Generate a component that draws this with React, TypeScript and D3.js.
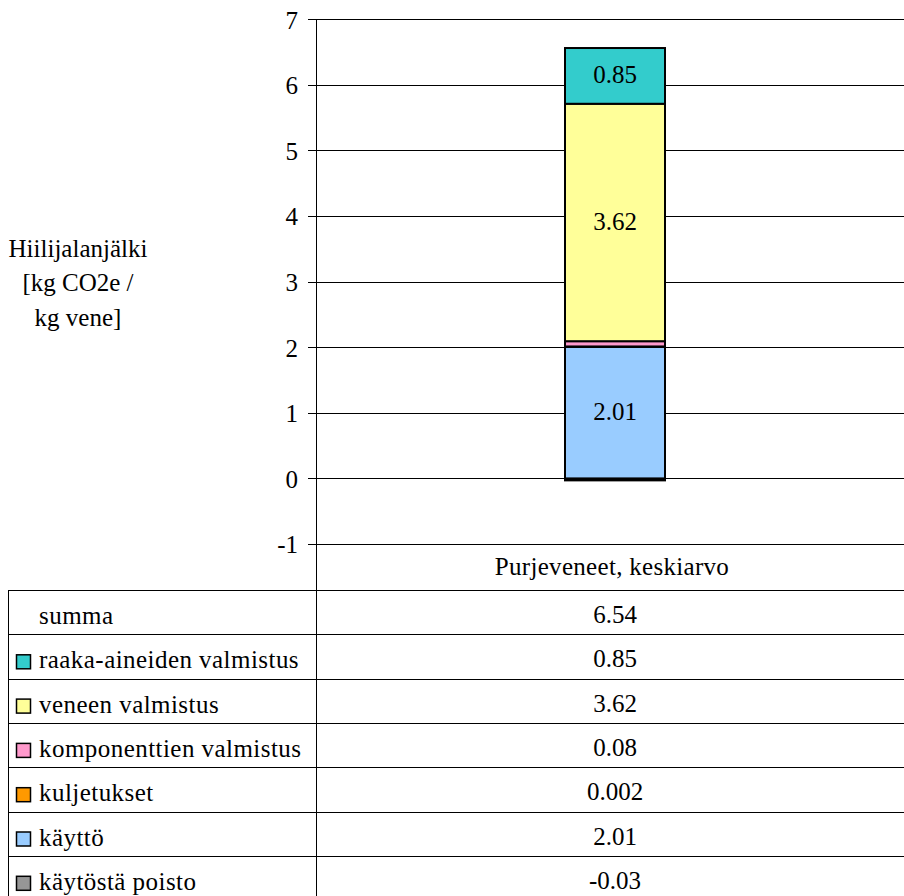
import React from "react";
import * as d3 from "d3";

const categories = ["Purjeveneet, keskiarvo"];
const seriesNames = [
  "raaka-aineiden valmistus",
  "veneen valmistus",
  "komponenttien valmistus",
  "kuljetukset",
  "käyttö",
  "käytöstä poisto",
];
const seriesValues = [0.85, 3.62, 0.08, 0.002, 2.01, -0.03];
const seriesLabels = ["0.85", "3.62", "0.08", "0.002", "2.01", "-0.03"];
const seriesColors = ["#33CCCC", "#FFFF99", "#FF99CC", "#FF9900", "#99CCFF", "#969696"];
const sumLabel = "6.54";
const yTicks = [-1, 0, 1, 2, 3, 4, 5, 6, 7];
const yTitle = ["Hiilijalanjälki", "[kg CO2e /", "kg vene]"];

const W = 904;
const H = 896;
const txt = { fontFamily: "Liberation Serif" };
const FS = 25;

export default function App() {
  const plotLeft = 316;
  const plotRight = 914;
  const y = d3.scaleLinear().domain([-1, 7]).range([544, 19.3]);
  const x = d3.scaleBand().domain(categories).range([plotLeft, plotRight]);
  const barW = 100;
  const cx = (x(categories[0]) as number) + x.bandwidth() / 2;

  const segs: { name: string; v0: number; v1: number; color: string; label: string; value: number }[] = [];
  let pos = 0;
  let neg = 0;
  for (let i = seriesValues.length - 1; i >= 0; i--) {
    const v = seriesValues[i];
    if (v >= 0) {
      segs.push({ name: seriesNames[i], v0: pos, v1: pos + v, color: seriesColors[i], label: seriesLabels[i], value: v });
      pos += v;
    } else {
      segs.push({ name: seriesNames[i], v0: neg + v, v1: neg, color: seriesColors[i], label: seriesLabels[i], value: v });
      neg += v;
    }
  }

  const tableTop = 590;
  const rowH = 44.3;
  const tableLeft = 8;
  const rows = [{ name: "summa", color: null as string | null, label: sumLabel }].concat(
    seriesNames.map((n, i) => ({ name: n, color: seriesColors[i], label: seriesLabels[i] }))
  );
  const py = (v: number) => Math.round(v) + 0.5;

  return (
    <div style={{ position: "absolute", left: 0, top: 0 }}>
      <svg width={W} height={H} style={{ display: "block", background: "#fff" }}>
        {yTicks.map((t) => (
          <line key={"g" + t} x1={plotLeft} x2={W} y1={py(y(t))} y2={py(y(t))} stroke="#000" strokeWidth={1} />
        ))}
        {yTicks.map((t) => (
          <g key={"t" + t}>
            <line x1={plotLeft - 8} x2={plotLeft} y1={py(y(t))} y2={py(y(t))} stroke="#000" />
            <text x={298} y={y(t) + 9.4} textAnchor="end" fontSize={FS} fill="#000" style={txt}>
              {t}
            </text>
          </g>
        ))}
        <line x1={plotLeft + 0.5} x2={plotLeft + 0.5} y1={y(7)} y2={H} stroke="#000" />
        {yTitle.map((s, i) => (
          <text key={s} x={78} y={256.7 + i * 34.5} textAnchor="middle" fontSize={FS} fill="#000" style={txt}>
            {s}
          </text>
        ))}
        {segs.map((s) => (
          <rect
            key={s.name}
            x={cx - barW / 2}
            y={y(s.v1)}
            width={barW}
            height={Math.max(0.5, y(s.v0) - y(s.v1))}
            fill={s.color}
            stroke="#000"
            strokeWidth={2}
          />
        ))}
        {segs
          .filter((s) => Math.abs(s.value) > 0.5)
          .map((s) => (
            <text key={"l" + s.name} x={cx} y={(y(s.v0) + y(s.v1)) / 2 + 7.5} textAnchor="middle" fontSize={FS} fill="#000" style={txt}>
              {s.label}
            </text>
          ))}
        <text x={cx - 3} y={575} textAnchor="middle" fontSize={FS} letterSpacing={0.3} fill="#000" style={txt}>
          {categories[0]}
        </text>
        {d3.range(rows.length + 1).map((i) => (
          <line key={"h" + i} x1={tableLeft} x2={W} y1={py(tableTop + i * rowH)} y2={py(tableTop + i * rowH)} stroke="#000" />
        ))}
        <line x1={tableLeft + 0.5} x2={tableLeft + 0.5} y1={tableTop} y2={H} stroke="#000" />
        {rows.map((r, i) => {
          const top = tableTop + i * rowH;
          return (
            <g key={"r" + i}>
              {r.color ? (
                <rect x={16.5} y={top + 20.5} width={14} height={14} fill={r.color} stroke="#000" strokeWidth={1.5} />
              ) : null}
              <text x={39} y={top + 34} fontSize={FS} letterSpacing={0.45} fill="#000" style={txt}>
                {r.name}
              </text>
              <text x={cx} y={top + 33} textAnchor="middle" fontSize={FS} fill="#000" style={txt}>
                {r.label}
              </text>
            </g>
          );
        })}
      </svg>
    </div>
  );
}
